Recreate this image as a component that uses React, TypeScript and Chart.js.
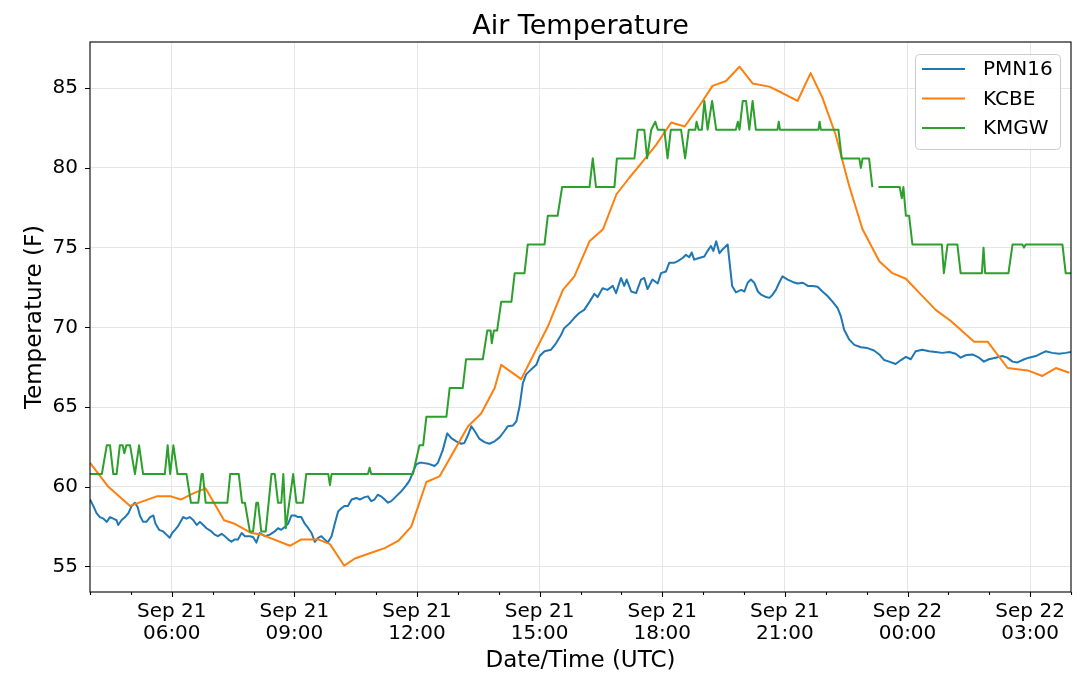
import { useEffect, useRef } from "react";
import { Chart, registerables } from "chart.js";

Chart.register(...registerables);

// times are hours after Sep 21 00:00 UTC
const pmnTimes = [
  4.0, 4.08, 4.16, 4.24, 4.33, 4.41, 4.49, 4.57, 4.65, 4.69, 4.77, 4.86, 4.94, 5.02, 5.1, 5.17, 5.22, 5.3, 5.38, 5.47,
  5.55, 5.6, 5.69, 5.79, 5.87, 5.95, 6.01, 6.08, 6.16, 6.28, 6.36, 6.44, 6.53, 6.61, 6.69, 6.77, 6.85, 6.97, 7.05, 7.13,
  7.22, 7.3, 7.38, 7.46, 7.54, 7.62, 7.71, 7.79, 7.91, 7.99, 8.07, 8.15, 8.28, 8.4, 8.52, 8.6, 8.68, 8.77, 8.85, 8.93,
  9.01, 9.09, 9.17, 9.25, 9.34, 9.42, 9.5, 9.58, 9.66, 9.74, 9.82, 9.91, 9.99, 10.07, 10.15, 10.23, 10.31, 10.4, 10.52, 10.6,
  10.72, 10.8, 10.88, 10.96, 11.04, 11.12, 11.21, 11.29, 11.37, 11.49, 11.61, 11.74, 11.82, 11.9, 11.98, 12.06, 12.14, 12.27, 12.43, 12.51,
  12.63, 12.74, 12.84, 12.96, 13.08, 13.16, 13.24, 13.33, 13.41, 13.53, 13.65, 13.77, 13.9, 14.02, 14.14, 14.22, 14.35, 14.43, 14.51, 14.59,
  14.67, 14.79, 14.92, 15.0, 15.12, 15.28, 15.4, 15.52, 15.6, 15.73, 15.85, 15.97, 16.09, 16.22, 16.34, 16.42, 16.54, 16.66, 16.79, 16.87,
  16.99, 17.07, 17.13, 17.24, 17.36, 17.48, 17.56, 17.64, 17.76, 17.89, 17.97, 18.09, 18.17, 18.29, 18.38, 18.5, 18.58, 18.66, 18.72, 18.78,
  18.9, 19.03, 19.11, 19.19, 19.25, 19.32, 19.4, 19.48, 19.6, 19.64, 19.71, 19.8, 19.93, 20.01, 20.09, 20.17, 20.25, 20.34, 20.42, 20.54,
  20.62, 20.7, 20.78, 20.86, 20.94, 21.07, 21.19, 21.31, 21.44, 21.56, 21.68, 21.8, 21.92, 22.05, 22.17, 22.29, 22.37, 22.45, 22.57, 22.7,
  22.86, 23.02, 23.18, 23.31, 23.43, 23.55, 23.71, 23.84, 23.96, 24.08, 24.2, 24.36, 24.53, 24.69, 24.85, 25.02, 25.18, 25.3, 25.42, 25.59,
  25.75, 25.87, 25.99, 26.16, 26.32, 26.44, 26.57, 26.69, 26.81, 26.97, 27.14, 27.26, 27.38, 27.54, 27.71, 27.87, 28.0,
];
const pmnTemps = [
  59.2, 58.8, 58.35, 58.1, 58.0, 57.8, 58.1, 58.0, 57.9, 57.6, 57.9, 58.1, 58.35, 58.8, 59.0, 58.7, 58.2, 57.8, 57.8, 58.1,
  58.2, 57.7, 57.3, 57.2, 57.0, 56.8, 57.1, 57.3, 57.55, 58.1, 58.0, 58.1, 57.9, 57.6, 57.8, 57.6, 57.4, 57.2, 57.0, 56.9,
  57.05, 56.9, 56.7, 56.55, 56.7, 56.7, 57.1, 56.9, 56.9, 56.85, 56.5, 57.1, 56.9, 57.0, 57.2, 57.4, 57.3, 57.5, 57.7, 58.2,
  58.2, 58.1, 58.1, 57.7, 57.4, 57.1, 56.55, 56.8, 56.9, 56.7, 56.5, 56.9, 57.7, 58.45, 58.65, 58.8, 58.8, 59.2, 59.3, 59.2,
  59.35, 59.4, 59.1, 59.2, 59.5, 59.4, 59.2, 59.0, 59.1, 59.4, 59.7, 60.1, 60.4, 60.9, 61.4, 61.5, 61.5, 61.45, 61.3, 61.5,
  62.3, 63.35, 63.05, 62.85, 62.7, 62.75, 63.2, 63.8, 63.5, 63.0, 62.8, 62.7, 62.85, 63.1, 63.5, 63.8, 63.85, 64.1, 65.05, 66.5,
  67.05, 67.35, 67.65, 68.2, 68.5, 68.6, 69.0, 69.5, 69.95, 70.25, 70.6, 70.9, 71.1, 71.6, 72.1, 71.9, 72.45, 72.35, 72.6, 72.15,
  73.1, 72.6, 73.0, 72.25, 72.15, 73.0, 73.1, 72.4, 73.0, 72.75, 73.4, 73.5, 74.05, 74.05, 74.15, 74.35, 74.55, 74.4, 74.7, 74.25,
  74.35, 74.45, 74.8, 75.1, 74.8, 75.4, 74.65, 74.9, 75.2, 74.25, 72.6, 72.2, 72.35, 72.25, 72.8, 73.0, 72.8, 72.25, 72.05, 71.9,
  71.85, 72.05, 72.35, 72.8, 73.2, 73.0, 72.85, 72.75, 72.8, 72.6, 72.6, 72.55, 72.25, 71.95, 71.6, 71.2, 70.7, 69.85, 69.25, 68.9,
  68.75, 68.7, 68.55, 68.3, 67.95, 67.85, 67.7, 67.95, 68.15, 68.0, 68.5, 68.6, 68.5, 68.45, 68.4, 68.45, 68.35, 68.1, 68.25, 68.3,
  68.1, 67.85, 68.0, 68.1, 68.2, 68.1, 67.85, 67.8, 67.95, 68.1, 68.2, 68.35, 68.5, 68.4, 68.35, 68.4, 68.45,
];

const kcbeTimes = [
  4.0, 4.45, 4.98, 5.63, 5.98, 6.22, 6.54, 6.83, 7.28, 7.52, 7.95, 8.2, 8.89, 9.17, 9.58, 9.87, 10.22, 10.48, 10.81, 11.21,
  11.54, 11.86, 12.23, 12.55, 13.25, 13.57, 13.9, 14.06, 14.55, 15.2, 15.57, 15.85, 16.22, 16.55, 16.88, 17.2, 17.57, 17.85, 18.22, 18.55,
  18.91, 19.23, 19.56, 19.89, 20.21, 20.62, 20.94, 21.31, 21.63, 21.92, 22.24, 22.57, 22.9, 23.31, 23.63, 23.96, 24.33, 24.69, 25.06, 25.63,
  25.96, 26.45, 26.94, 27.3, 27.63, 27.96,
];
const kcbeTemps = [
  61.5, 60.0, 58.8, 59.4, 59.4, 59.2, 59.6, 59.9, 57.9, 57.7, 57.1, 57.0, 56.3, 56.7, 56.7, 56.4, 55.05, 55.5, 55.8, 56.15,
  56.6, 57.5, 60.3, 60.65, 63.8, 64.6, 66.2, 67.65, 66.75, 70.05, 72.35, 73.2, 75.4, 76.15, 78.35, 79.4, 80.55, 81.45, 82.85, 82.6,
  83.9, 85.15, 85.45, 86.35, 85.3, 85.1, 84.7, 84.2, 85.95, 84.4, 82.1, 78.9, 76.15, 74.15, 73.4, 73.05, 72.05, 71.1, 70.4, 69.1,
  69.1, 67.45, 67.3, 66.95, 67.45, 67.15,
];

const kmgwTimes = [
  4.0, 4.29, 4.41, 4.49, 4.57, 4.65, 4.73, 4.8, 4.84, 4.89, 4.98, 5.1, 5.2, 5.3, 5.83, 5.9, 5.96, 6.04, 6.14, 6.36,
  6.47, 6.65, 6.73, 6.76, 6.83, 7.36, 7.43, 7.64, 7.72, 7.79, 7.91, 7.99, 8.07, 8.11, 8.19, 8.3, 8.44, 8.52, 8.6, 8.68,
  8.73, 8.79, 8.97, 9.05, 9.21, 9.29, 9.83, 9.87, 9.91, 10.8, 10.84, 10.88, 11.9, 12.06, 12.15, 12.23, 12.72, 12.8, 13.12, 13.2,
  13.61, 13.72, 13.8, 13.83, 13.88, 13.96, 14.06, 14.31, 14.39, 14.63, 14.71, 15.12, 15.2, 15.44, 15.55, 16.22, 16.3, 16.38, 16.83, 16.89,
  17.32, 17.4, 17.56, 17.63, 17.73, 17.83, 17.89, 18.05, 18.13, 18.21, 18.46, 18.56, 18.65, 18.81, 18.84, 18.89, 18.97, 19.03, 19.11, 19.22,
  19.32, 19.8, 19.85, 19.89, 19.97, 20.05, 20.13, 20.21, 20.29, 20.82, 20.85, 20.88, 21.82, 21.85, 21.88, 22.31, 22.39, 22.82, 22.86, 22.9,
  23.06, 23.14, 23.2, 23.29, 23.81, 23.86, 23.9, 23.96, 24.04, 24.12, 24.84, 24.89, 24.98, 25.22, 25.3, 25.82, 25.86, 25.9, 26.47, 26.57,
  26.81, 26.85, 26.89, 27.79, 27.87, 28.0,
];
const kmgwTemps = [
  60.8, 60.8, 62.6, 62.6, 60.8, 60.8, 62.6, 62.6, 62.1, 62.6, 62.6, 60.8, 62.6, 60.8, 60.8, 62.6, 60.8, 62.6, 60.8, 60.8,
  59.0, 59.0, 60.8, 60.8, 59.0, 59.0, 60.8, 60.8, 59.0, 59.0, 57.2, 57.2, 59.0, 59.0, 57.2, 57.2, 60.8, 60.8, 59.0, 59.0,
  60.8, 57.4, 60.8, 59.0, 59.0, 60.8, 60.8, 60.1, 60.8, 60.8, 61.2, 60.8, 60.8, 62.6, 62.6, 64.4, 64.4, 66.2, 66.2, 68.0,
  68.0, 69.8, 69.8, 69.0, 69.8, 69.8, 71.6, 71.6, 73.4, 73.4, 75.2, 75.2, 77.0, 77.0, 78.8, 78.8, 80.6, 78.8, 78.8, 80.6,
  80.6, 82.4, 82.4, 80.6, 82.4, 82.9, 82.4, 82.4, 80.6, 82.4, 82.4, 80.6, 82.4, 82.4, 82.9, 82.4, 82.4, 84.2, 82.4, 84.2,
  82.4, 82.4, 82.9, 82.4, 84.2, 84.2, 82.4, 84.2, 82.4, 82.4, 82.9, 82.4, 82.4, 82.9, 82.4, 82.4, 80.6, 80.6, 80.0, 80.6,
  80.6, 78.8, null, 78.8, 78.8, 78.1, 78.8, 77.0, 77.0, 75.2, 75.2, 73.4, 75.2, 75.2, 73.4, 73.4, 75.0, 73.4, 73.4, 75.2,
  75.2, 75.0, 75.2, 75.2, 73.4, 73.4,
];

const stations = ["PMN16", "KCBE", "KMGW"];
const colors = ["#1f77b4", "#ff7f0e", "#2ca02c"];

const yTicks = [55, 60, 65, 70, 75, 80, 85];
const hourTicks = [4, 5, 6, 7, 8, 9, 10, 11, 12, 13, 14, 15, 16, 17, 18, 19, 20, 21, 22, 23, 24, 25, 26, 27, 28];

const FONT = '"DejaVu Sans", sans-serif';

function timeLabel(h: number) {
  if (h % 3 !== 0) return "";
  const day = 21 + Math.floor(h / 24);
  const hh = String(h % 24).padStart(2, "0");
  return [`Sep ${day}`, `${hh}:00`];
}

function toPoints(times: number[], temps: (number | null)[]) {
  return times.map((t, i) => ({ x: t, y: temps[i] }));
}

// matplotlib-like frame, outward tick marks, title and in-axes legend
const decorPlugin = {
  id: "decor",
  afterDatasetsDraw(chart: Chart) {
    const { ctx, chartArea: a, scales } = chart;
    ctx.save();
    ctx.strokeStyle = "#000";
    ctx.lineWidth = 1.1;
    ctx.strokeRect(a.left, a.top, a.right - a.left, a.bottom - a.top);

    ctx.beginPath();
    for (const v of yTicks) {
      const y = Math.round(scales.y.getPixelForValue(v)) + 0.5;
      ctx.moveTo(a.left - 5, y);
      ctx.lineTo(a.left, y);
    }
    for (const h of hourTicks) {
      const x = Math.round(scales.x.getPixelForValue(h)) + 0.5;
      ctx.moveTo(x, a.bottom);
      ctx.lineTo(x, a.bottom + (h % 3 === 0 ? 5 : 3));
    }
    ctx.stroke();

    ctx.fillStyle = "#000";
    ctx.font = `27px ${FONT}`;
    ctx.textAlign = "center";
    ctx.textBaseline = "alphabetic";
    ctx.fillText("Air Temperature", (a.left + a.right) / 2, 34);

    // legend box
    ctx.beginPath();
    ctx.roundRect(915.5, 54.5, 145, 95, 4);
    ctx.fillStyle = "rgba(255,255,255,0.8)";
    ctx.fill();
    ctx.strokeStyle = "#cccccc";
    ctx.lineWidth = 1;
    ctx.stroke();
    ctx.font = `20px ${FONT}`;
    ctx.textAlign = "left";
    ctx.textBaseline = "middle";
    stations.forEach((name, i) => {
      const y = 69 + i * 29.5;
      ctx.beginPath();
      ctx.moveTo(922, y);
      ctx.lineTo(965, y);
      ctx.strokeStyle = colors[i];
      ctx.lineWidth = 2;
      ctx.stroke();
      ctx.fillStyle = "#000";
      ctx.fillText(name, 983, y + 1);
    });
    ctx.restore();
  },
};

export default function App() {
  const canvasRef = useRef<HTMLCanvasElement>(null);

  useEffect(() => {
    if (!canvasRef.current) return;
    const series = [
      toPoints(pmnTimes, pmnTemps),
      toPoints(kcbeTimes, kcbeTemps),
      toPoints(kmgwTimes, kmgwTemps),
    ];
    const chart = new Chart(canvasRef.current, {
      type: "line",
      data: {
        datasets: stations.map((name, i) => ({
          label: name,
          data: series[i],
          borderColor: colors[i],
          backgroundColor: colors[i],
          borderWidth: 2,
          pointRadius: 0,
          tension: 0,
          spanGaps: false,
          borderJoinStyle: "round" as const,
          order: 3 - i,
        })),
      },
      options: {
        responsive: true,
        maintainAspectRatio: false,
        animation: false,
        layout: { padding: { top: 42, right: 8, left: 0, bottom: 0 } },
        plugins: {
          legend: { display: false },
          tooltip: { enabled: false },
        },
        scales: {
          x: {
            type: "linear",
            min: 4,
            max: 28,
            afterBuildTicks: (s) => {
              s.ticks = hourTicks.map((v) => ({ value: v }));
            },
            afterFit: (s) => {
              s.height = 94;
            },
            grid: {
              color: (c) => (c.tick && c.tick.value % 3 === 0 ? "#e6e6e6" : "rgba(0,0,0,0)"),
              drawTicks: false,
            },
            border: { display: false },
            ticks: {
              autoSkip: false,
              maxRotation: 0,
              padding: 9,
              color: "#000",
              font: { family: FONT, size: 20, lineHeight: 1.1 },
              callback: (v) => timeLabel(Number(v)),
            },
            title: {
              display: true,
              text: "Date/Time (UTC)",
              color: "#000",
              font: { family: FONT, size: 23 },
              padding: { top: 0, bottom: 11 },
            },
          },
          y: {
            min: 53.4,
            max: 87.9,
            afterBuildTicks: (s) => {
              s.ticks = yTicks.map((v) => ({ value: v }));
            },
            afterFit: (s) => {
              s.width = 90;
            },
            grid: { color: "#e6e6e6", drawTicks: false },
            border: { display: false },
            ticks: {
              padding: 12,
              color: "#000",
              font: { family: FONT, size: 20 },
              callback: (v) => String(v),
            },
            title: {
              display: true,
              text: "Temperature (F)",
              color: "#000",
              font: { family: FONT, size: 23 },
              padding: { top: 21, bottom: 0 },
            },
          },
        },
      },
      plugins: [decorPlugin],
    });
    return () => chart.destroy();
  }, []);

  return (
    <div style={{ position: "fixed", left: 0, top: 0, width: 1080, height: 686, background: "#fff" }}>
      <canvas ref={canvasRef} />
    </div>
  );
}
